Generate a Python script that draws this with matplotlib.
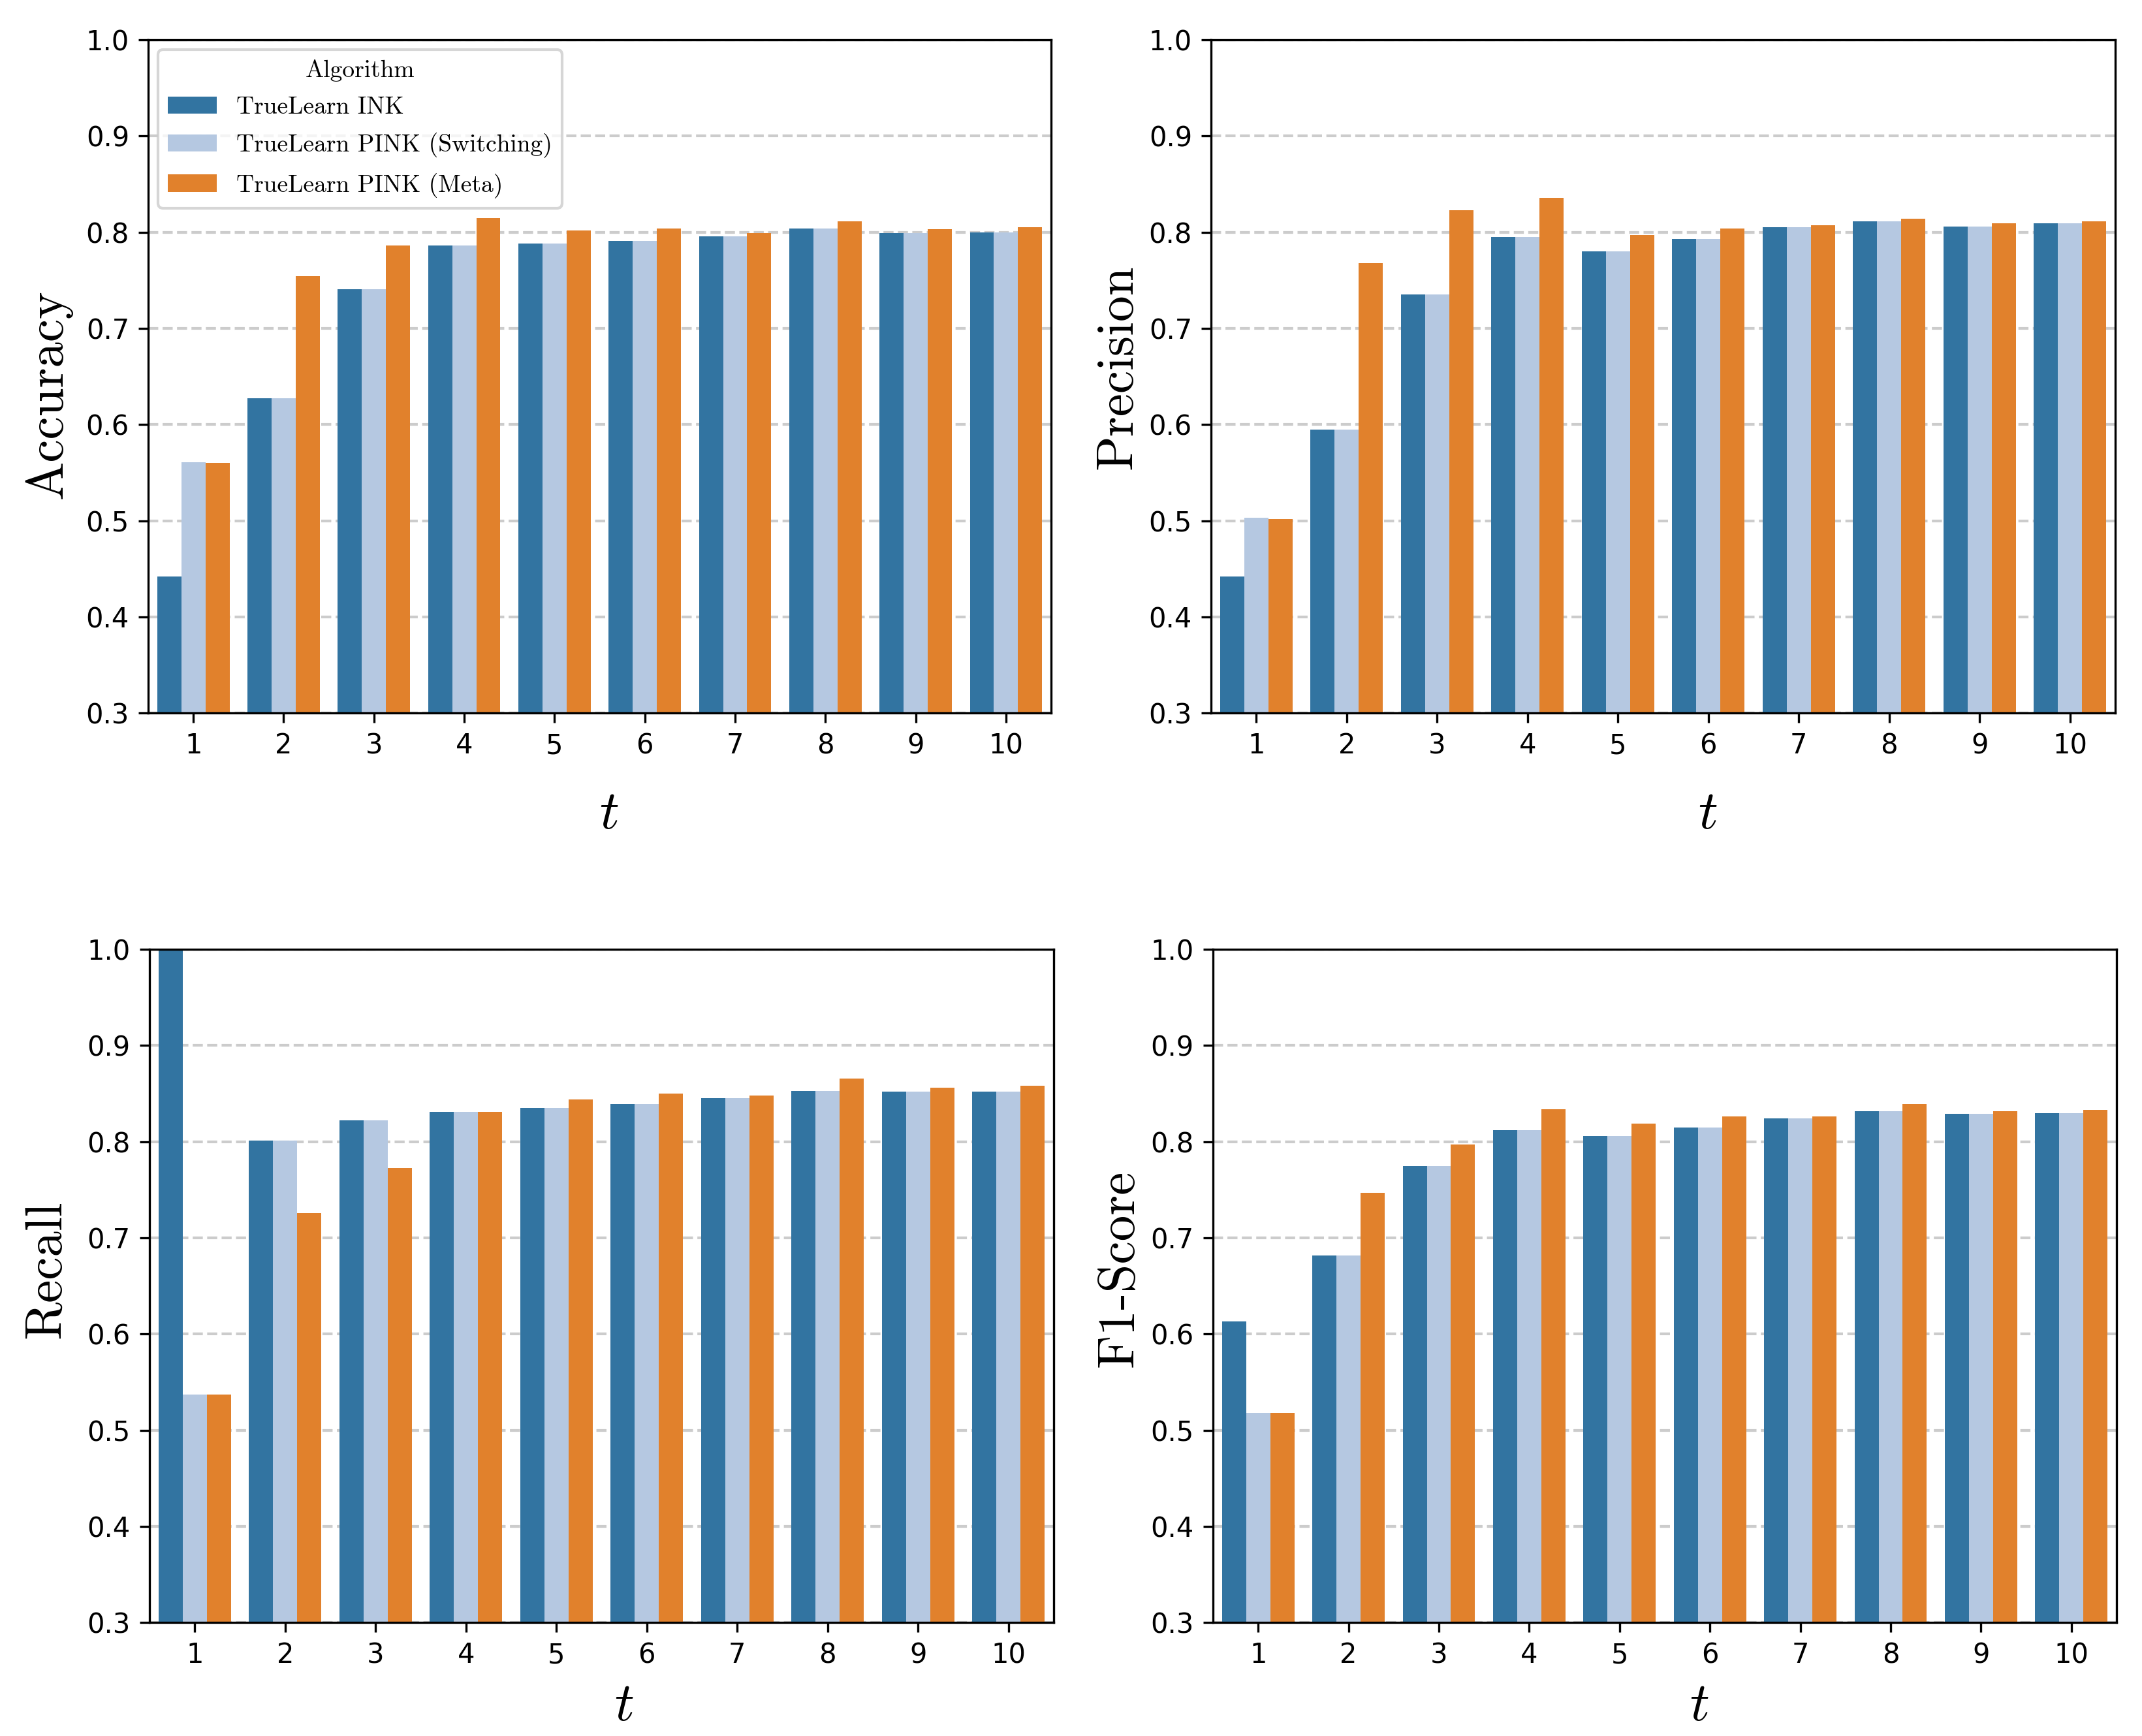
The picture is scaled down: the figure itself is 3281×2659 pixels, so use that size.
import numpy as np
import pandas as pd
import matplotlib
matplotlib.use('Agg')
import matplotlib.pyplot as plt
import seaborn as sns

plt.rcParams['mathtext.fontset'] = 'cm'
plt.rcParams['font.size'] = 10

# data
t_values = [1, 2, 3, 4, 5, 6, 7, 8, 9, 10]
algorithms = ['TrueLearn INK', 'TrueLearn PINK (Switching)', 'TrueLearn PINK (Meta)']

accuracy_ink = [0.442, 0.627, 0.741, 0.786, 0.788, 0.791, 0.796, 0.804, 0.799, 0.800]
accuracy_switch = [0.561, 0.627, 0.741, 0.786, 0.788, 0.791, 0.796, 0.804, 0.799, 0.800]
accuracy_meta = [0.560, 0.754, 0.786, 0.815, 0.802, 0.804, 0.799, 0.811, 0.803, 0.805]

precision_ink = [0.442, 0.595, 0.735, 0.795, 0.780, 0.793, 0.805, 0.811, 0.806, 0.809]
precision_switch = [0.503, 0.595, 0.735, 0.795, 0.780, 0.793, 0.805, 0.811, 0.806, 0.809]
precision_meta = [0.502, 0.768, 0.823, 0.836, 0.797, 0.804, 0.807, 0.814, 0.809, 0.811]

recall_ink = [1.000, 0.801, 0.822, 0.831, 0.835, 0.839, 0.845, 0.853, 0.852, 0.852]
recall_switch = [0.537, 0.801, 0.822, 0.831, 0.835, 0.839, 0.845, 0.853, 0.852, 0.852]
recall_meta = [0.537, 0.726, 0.773, 0.831, 0.844, 0.850, 0.848, 0.866, 0.856, 0.858]

f1_ink = [0.613, 0.682, 0.775, 0.812, 0.806, 0.815, 0.824, 0.832, 0.829, 0.830]
f1_switch = [0.518, 0.682, 0.775, 0.812, 0.806, 0.815, 0.824, 0.832, 0.829, 0.830]
f1_meta = [0.518, 0.747, 0.797, 0.834, 0.819, 0.826, 0.826, 0.839, 0.832, 0.833]

metric_names = ['Accuracy', 'Precision', 'Recall', 'F1-Score']
metric_series = [
    (accuracy_ink, accuracy_switch, accuracy_meta),
    (precision_ink, precision_switch, precision_meta),
    (recall_ink, recall_switch, recall_meta),
    (f1_ink, f1_switch, f1_meta),
]

palette = [plt.cm.tab20(0), plt.cm.tab20(1), plt.cm.tab20(2)]

fig, axes = plt.subplots(2, 2, figsize=(3281 / 300, 2659 / 300), dpi=300)
axes = axes.flatten()

# axes positions (figure fraction)
positions = [
    [0.0692, 0.5893, 0.4215, 0.3877],
    [0.5654, 0.5893, 0.4221, 0.3877],
    [0.0698, 0.0654, 0.4221, 0.3877],
    [0.5663, 0.0654, 0.4218, 0.3877],
]
ylabel_pads = [5, 2.5, 6, 2.5]
xlabel_pads = [10, 10, 3.5, 3.5]
# label offsets along the axis (axes fraction), as in the original figure
ylabel_y = [0.474, 0.514, 0.525, 0.526]
xlabel_x = [0.510, 0.549, 0.525, 0.538]

for i, ax in enumerate(axes):
    ax.set_position(positions[i])
    ink, switch, meta = metric_series[i]
    df = pd.DataFrame({
        't': t_values * 3,
        'value': list(ink) + list(switch) + list(meta),
        'Algorithm': [algorithms[0]] * 10 + [algorithms[1]] * 10 + [algorithms[2]] * 10,
    })
    sns.barplot(data=df, x='t', y='value', hue='Algorithm', palette=palette,
                errorbar=None, ax=ax)
    ax.set_ylim(0.3, 1.0)
    ax.set_yticks(np.arange(0.3, 1.01, 0.1))
    ax.set_yticklabels(['%.1f' % v for v in np.arange(0.3, 1.01, 0.1)])
    ax.grid(axis='y', linestyle='--', color='0.8', linewidth=1.0)
    ax.set_axisbelow(True)
    ax.set_ylabel(metric_names[i], fontfamily='cmr10', fontsize=19,
                  labelpad=ylabel_pads[i])
    ax.set_xlabel(r'$t$', fontsize=20, labelpad=xlabel_pads[i])
    ax.yaxis.label.set_y(ylabel_y[i])
    ax.xaxis.label.set_x(xlabel_x[i])
    if i == 0:
        ax.legend(title='Algorithm', loc='upper left',
                  prop={'family': 'cmr10', 'size': 9},
                  title_fontproperties={'family': 'cmr10', 'size': 9},
                  labelspacing=0.6, borderaxespad=0.4)
    else:
        ax.get_legend().remove()

plt.savefig('out.png', dpi=300, facecolor='white')
